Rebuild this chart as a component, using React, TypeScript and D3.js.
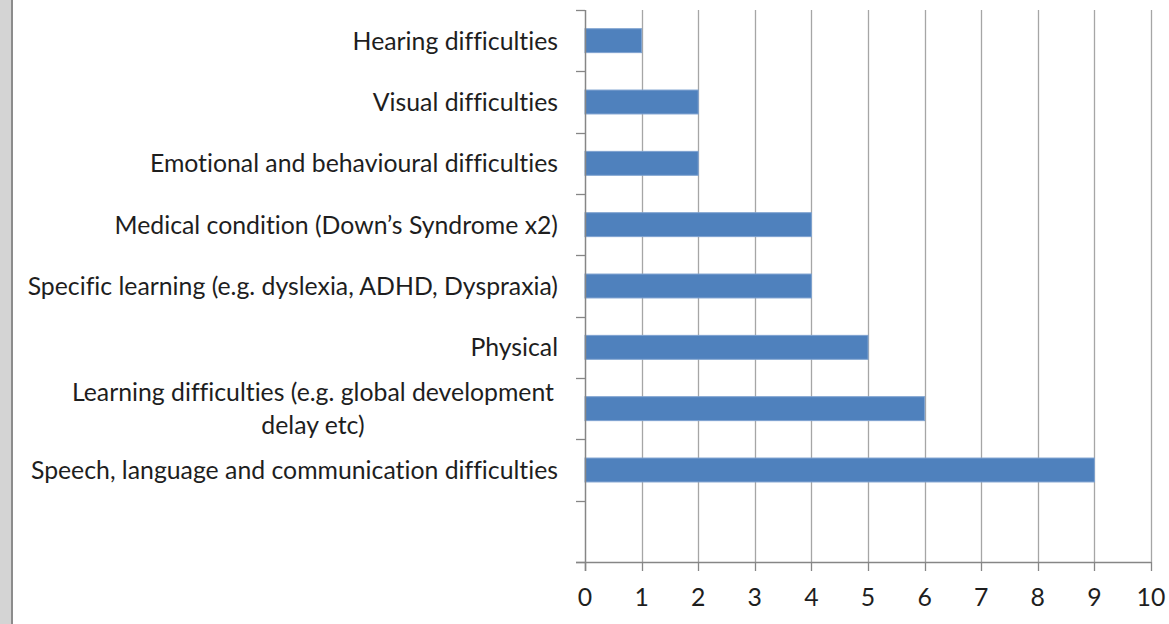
import React, { useEffect, useRef } from "react";
import * as d3 from "d3";

const categories: string[] = [
  "Hearing difficulties",
  "Visual difficulties",
  "Emotional and behavioural difficulties",
  "Medical condition (Down’s Syndrome x2)",
  "Specific learning (e.g. dyslexia, ADHD, Dyspraxia)",
  "Physical",
  "Learning difficulties (e.g. global development\ndelay etc)",
  "Speech, language and communication difficulties",
  "",
];
const values: number[] = [1, 2, 2, 4, 4, 5, 6, 9];
const xTicks: number[] = [0, 1, 2, 3, 4, 5, 6, 7, 8, 9, 10];

const W = 1169;
const H = 624;
const FONT = "Lato, 'Noto Sans', sans-serif";
const FS = 24.8;

export default function App() {
  const ref = useRef<SVGSVGElement | null>(null);

  useEffect(() => {
    const svg = d3.select(ref.current);
    svg.selectAll("*").remove();

    const x = d3.scaleLinear().domain([0, 10]).range([585, 1151]);
    const y = d3
      .scaleBand<string>()
      .domain(categories.map((c, i) => String(i)))
      .range([10, 562])
      .paddingInner(0.61)
      .paddingOuter(0.305);
    const step = y.step();

    // left border
    svg.append("rect").attr("x", 0).attr("y", 0).attr("width", 11).attr("height", H).attr("fill", "#d4d4d4");
    svg.append("rect").attr("x", 11).attr("y", 0).attr("width", 2).attr("height", H).attr("fill", "#8c8c8c");

    // gridlines
    svg
      .append("g")
      .selectAll("line")
      .data(xTicks.filter((t) => t > 0))
      .join("line")
      .attr("x1", (d) => Math.round(x(d)) + 0.5)
      .attr("x2", (d) => Math.round(x(d)) + 0.5)
      .attr("y1", 10)
      .attr("y2", 562)
      .attr("stroke", "#a6a6a6")
      .attr("stroke-width", 1.3);

    // bars
    svg
      .append("g")
      .selectAll("rect")
      .data(values)
      .join("rect")
      .attr("x", x(0))
      .attr("y", (d, i) => y(String(i)) as number)
      .attr("width", (d) => x(d) - x(0))
      .attr("height", y.bandwidth())
      .attr("fill", "#4f81bd")
      .attr("stroke", "#7ea2d0")
      .attr("stroke-width", 1);

    // axes
    const axisColor = "#868686";
    svg.append("line").attr("x1", 585.5).attr("x2", 585.5).attr("y1", 10).attr("y2", 571).attr("stroke", axisColor).attr("stroke-width", 1.5);
    svg.append("line").attr("x1", 576).attr("x2", 1151).attr("y1", 562.5).attr("y2", 562.5).attr("stroke", axisColor).attr("stroke-width", 1.5);

    // y ticks at band boundaries
    svg
      .append("g")
      .selectAll("line")
      .data(d3.range(categories.length + 1))
      .join("line")
      .attr("x1", 576)
      .attr("x2", 585)
      .attr("y1", (i) => Math.round(10 + i * step) + 0.5)
      .attr("y2", (i) => Math.round(10 + i * step) + 0.5)
      .attr("stroke", axisColor)
      .attr("stroke-width", 1.3);

    // x ticks
    svg
      .append("g")
      .selectAll("line")
      .data(xTicks)
      .join("line")
      .attr("x1", (d) => Math.round(x(d)) + 0.5)
      .attr("x2", (d) => Math.round(x(d)) + 0.5)
      .attr("y1", 562)
      .attr("y2", 571)
      .attr("stroke", axisColor)
      .attr("stroke-width", 1.3);

    // x tick labels
    svg
      .append("g")
      .selectAll("text")
      .data(xTicks)
      .join("text")
      .attr("x", (d) => x(d))
      .attr("y", 606)
      .attr("text-anchor", "middle")
      .attr("font-family", FONT)
      .attr("font-size", FS)
      .attr("fill", "#1e1e1e")
      .text((d) => String(d));

    // category labels
    const labelRight = 558;
    const lineH = 33;
    categories.forEach((c, i) => {
      if (!c) return;
      const lines = c.split("\n");
      const cy = (y(String(i)) as number) + y.bandwidth() / 2;
      const g = svg.append("g");
      const texts = lines.map((ln, k) =>
        g
          .append("text")
          .attr("y", cy + (k - (lines.length - 1) / 2) * lineH)
          .attr("dy", "0.36em")
          .attr("font-family", FONT)
          .attr("font-size", FS)
          .style("font-variant-ligatures", "none")
          .attr("fill", "#1e1e1e")
          .text(ln)
      );
      if (lines.length === 1) {
        texts[0].attr("x", labelRight).attr("text-anchor", "end");
      } else {
        const widths = texts.map((t) => (t.node() as SVGTextElement).getComputedTextLength());
        const maxW = Math.max(...widths) + 8;
        texts.forEach((t) => t.attr("x", labelRight - maxW / 2).attr("text-anchor", "middle"));
      }
    });
  }, []);

  return (
    <div style={{ position: "absolute", left: 0, top: 0 }}>
      <svg ref={ref} width={W} height={H} style={{ display: "block", background: "#fff" }} />
    </div>
  );
}
